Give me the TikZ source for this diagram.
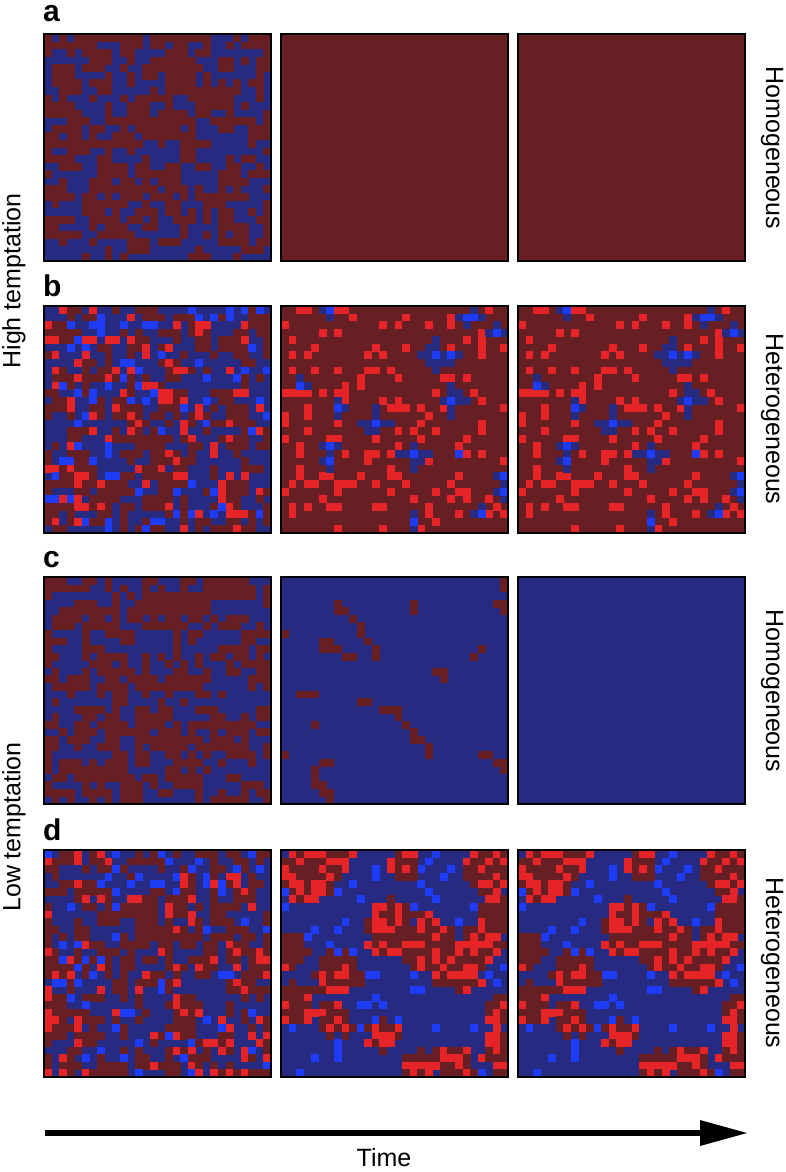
\documentclass[tikz,border=0pt]{standalone}
\usepackage{fontspec}
\setmainfont{Liberation Sans}
\usetikzlibrary{calc}
\definecolor{dR}{RGB}{104,31,36}
\definecolor{dB}{RGB}{38,42,128}
\definecolor{bR}{RGB}{228,36,38}
\definecolor{bB}{RGB}{30,60,245}
\newcommand\cs{7.5667}
\newcommand\pcell[3]{\fill[#3] ({\px+#1*\cs},{\py+#2*\cs}) rectangle ++(7.9,7.9);}
% two-colour clustered random panel
\newcommand\mixpanel[5]{%
 \xdef\px{#1}\xdef\py{#2}%
 \pgfmathsetseed{#3}%
 \fill[dB] (#1,#2) rectangle ++(227,227);
 \foreach \i in {0,...,29}{\pgfmathrnd\ifdim\pgfmathresult pt<0.5pt\expandafter\xdef\csname up\i\endcsname{1}\else\expandafter\xdef\csname up\i\endcsname{0}\fi}%
 \foreach \j in {0,...,29}{%
  \pgfmathrnd\ifdim\pgfmathresult pt<0.5pt\xdef\leftc{1}\else\xdef\leftc{0}\fi
  \foreach \i in {0,...,29}{%
   \ifcase\numexpr\leftc+\csname up\i\endcsname\relax \def\pp{0.3}\or\def\pp{0.5}\else\def\pp{0.7}\fi
   \pgfmathrnd
   \ifdim\pgfmathresult pt<\pp pt
     \xdef\leftc{1}\expandafter\xdef\csname up\i\endcsname{1}%
     \pgfmathrnd
     \ifdim\pgfmathresult pt<#4pt \pcell{\i}{\j}{bR}\else\pcell{\i}{\j}{dR}\fi
   \else
     \xdef\leftc{0}\expandafter\xdef\csname up\i\endcsname{0}%
     \pgfmathrnd
     \ifdim\pgfmathresult pt<#5pt \pcell{\i}{\j}{bB}\fi
   \fi
  }}%
}
% blue diamond cluster
\newcommand\dia[3]{%
 \foreach \dx in {-#3,...,#3}{\foreach \dy in {-#3,...,#3}{%
   \pgfmathtruncatemacro\dd{abs(\dx)+abs(\dy)}%
   \pgfmathtruncatemacro\qi{#1+\dx}\pgfmathtruncatemacro\qj{#2+\dy}%
   \ifnum\dd>#3\relax\else
    \ifnum\qi<0 \else\ifnum\qi>29 \else\ifnum\qj<0 \else\ifnum\qj>29 \else
     \ifnum\dd<#3\relax \pcell{\qi}{\qj}{dB}\else
      \pgfmathrnd\ifdim\pgfmathresult pt<0.6pt \pcell{\qi}{\qj}{dB}\fi\fi
    \fi\fi\fi\fi
   \fi}}%
 \pcell{#1}{#2}{bB}%
}
\newcommand\bpanel[3]{%
 \xdef\px{#1}\xdef\py{#2}\pgfmathsetseed{#3}%
 \fill[dR] (#1,#2) rectangle ++(227,227);
 \foreach \j in {0,...,29}{\foreach \i in {0,...,29}{\pgfmathrnd\ifdim\pgfmathresult pt<0.18pt \pcell{\i}{\j}{bR}\fi}}%
 \foreach \bi/\bj/\br in {6/0/1,24/1/1,25/1/1,28/3/1,20/6/2,22/6/1,2/10/1,22/12/2,7/13/1,12/15/2,17/19/2,23/19/1,6/18/1,6/20/1,17/28/1,26/27/1,29/22/1,29/24/1}{\dia{\bi}{\bj}{\br}}%
}
% red blob
\newcommand\rblob[3]{%
 \pgfmathtruncatemacro\ia{max(0,#1-#3-1)}\pgfmathtruncatemacro\ib{min(29,#1+#3+1)}%
 \pgfmathtruncatemacro\ja{max(0,#2-#3-1)}\pgfmathtruncatemacro\jb{min(29,#2+#3+1)}%
 \foreach \qi in {\ia,...,\ib}{\foreach \qj in {\ja,...,\jb}{%
   \pgfmathrnd\let\nz\pgfmathresult
   \pgfmathparse{((\qi-#1)*(\qi-#1)+(\qj-#2)*(\qj-#2)) < (#3*#3+(\nz-0.5)*2.4*#3) ? 1 : 0}%
   \ifdim\pgfmathresult pt>0.5pt
     \pgfmathrnd\ifdim\pgfmathresult pt<0.4pt \pcell{\qi}{\qj}{bR}\else\pcell{\qi}{\qj}{dR}\fi
   \fi}}%
}
\newcommand\dpanel[3]{%
 \xdef\px{#1}\xdef\py{#2}\pgfmathsetseed{#3}%
 \fill[dB] (#1,#2) rectangle ++(227,227);
 \foreach \j in {0,...,29}{\foreach \i in {0,...,29}{\pgfmathrnd\ifdim\pgfmathresult pt<0.08pt \pcell{\i}{\j}{bB}\fi}}%
 \foreach \bi/\bj/\br in {3/3/3.8,7/1/2.3,16/1/2.2,27/2/3.3,28/8/2.8,14/10/3.5,19/12/4,23/15/3.5,26/12/3,0/13/2.8,1/20/3.3,7/16/3,7/22/2.4,13/24/2.2,18/28/2.6,23/28/2.4,29/21/2.6,29/26/2.8}{\rblob{\bi}{\bj}{\br}}%
}
\tikzset{
 frame/.style={draw=black,line width=1.8pt},
 sidelab/.style={font=\fontsize{25}{25}\selectfont},
 panlab/.style={font=\bfseries\fontsize{30}{30}\selectfont,anchor=base west,inner sep=0pt},
}
\begin{document}
\begin{tikzpicture}[x=1pt,y=-1pt]
\useasboundingbox (0,0) rectangle (786,1172);
\fill[white] (0,0) rectangle (786,1172);
% row a
\mixpanel{44}{34}{11}{0}{0}
\fill[dR] (281,34) rectangle ++(227,227);
\fill[dR] (518,34) rectangle ++(227,227);
% row b
\mixpanel{44}{306}{23}{0.24}{0.16}
\bpanel{281}{306}{5}
\bpanel{518}{306}{5}
% row c
\mixpanel{44}{577}{37}{0}{0}
\xdef\px{281}\xdef\py{577}
\fill[dB] (281,577) rectangle ++(227,227);
\foreach \qi/\qj in {29/0,29/1,28/3,29/3,29/4,7/3,7/4,8/4,9/5,10/6,10/7,11/8,12/9,12/10,17/3,17/4,0/7,5/8,6/8,5/9,6/9,7/9,8/10,9/10,26/9,25/10,20/12,21/12,21/13,2/15,3/15,4/15,10/16,11/16,13/17,14/17,15/17,15/18,16/19,17/20,17/21,18/21,19/22,19/23,4/19,0/23,26/23,27/23,28/24,29/24,29/25,5/24,6/24,4/25,4/26,4/27,5/27,5/28,6/28,6/29}{\pcell{\qi}{\qj}{dR}}
\fill[dB] (518,577) rectangle ++(227,227);
% row d
\mixpanel{44}{850}{51}{0.2}{0.12}
\dpanel{281}{850}{7}
\dpanel{518}{850}{7}
% frames
\foreach \x in {44,281,518}{\foreach \y in {34,306,577,850}{\draw[frame] (\x,\y) rectangle ++(227,227);}}
% panel letters
\node[panlab] (la) at (43,22) {a};
\node[panlab] (lb) at (43,296) {b};
\node[panlab] (lc) at (43,567) {c};
\node[panlab] (ld) at (43,840) {d};
% right labels
\node[sidelab,rotate=-90] (ra) at (772,148) {Homogeneous};
\node[sidelab,rotate=-90] (rb) at (772,419) {Heterogeneous};
\node[sidelab,rotate=-90] (rc) at (772,691) {Homogeneous};
\node[sidelab,rotate=-90] (rd) at (772,963) {Heterogeneous};
% left labels
\node[sidelab,rotate=90] (hi) at (14,281) {High temptation};
\node[sidelab,rotate=90] (lo) at (14,827) {Low temptation};
% time arrow
\coordinate (t0) at (45,1133);
\coordinate (t1) at (702,1133);
\coordinate (t2) at (747,1133);
\draw[line width=6pt] (t0) -- (t1);
\fill (t2) -- ($(t1)+(-2,-13)$) -- ($(t1)+(-2,13)$) -- cycle;
\node[font=\fontsize{25}{25}\selectfont] (time) at (384,1158) {Time};
\end{tikzpicture}
\end{document}
